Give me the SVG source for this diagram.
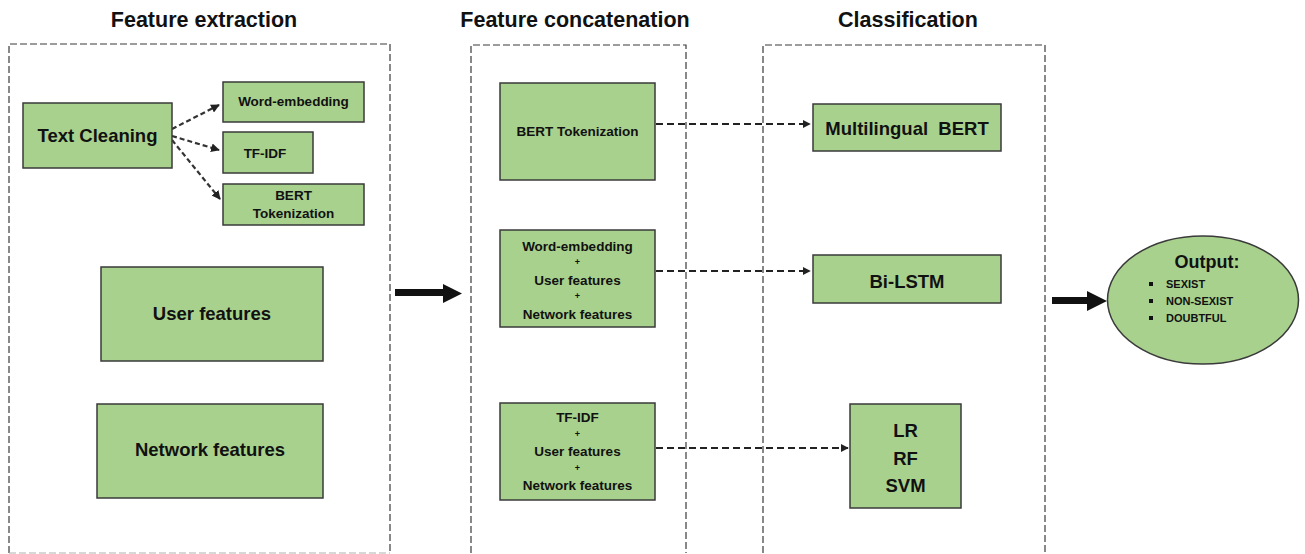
<svg xmlns="http://www.w3.org/2000/svg" width="1305" height="554" viewBox="0 0 1305 554">
<defs>
<style>
text{font-family:"Liberation Sans",Arial,sans-serif;font-weight:bold;fill:#111;text-anchor:middle}
.box{fill:#A9D18E;stroke:#3a3a3a;stroke-width:1.5}
.panel{fill:none;stroke:#3a3a3a;stroke-width:1.2;stroke-dasharray:7 3}
.pbot{fill:none;stroke:#b0b0b0;stroke-width:1.2;stroke-dasharray:7 3}
.dash{fill:none;stroke:#222;stroke-width:2;stroke-dasharray:7 4}
.dash2{fill:none;stroke:#333;stroke-width:2.2;stroke-dasharray:5 3}
.title{font-size:21.5px}
.plus{font-size:9px}
.mid{font-size:13.5px}
.sm{font-size:13.5px}
.lg{font-size:18.5px}
.out{font-size:11px;text-anchor:start}
</style>
<marker id="ah" viewBox="0 0 10 10" refX="9" refY="5" markerWidth="4" markerHeight="4" orient="auto" markerUnits="strokeWidth">
<path d="M0,0 L10,5 L0,10 z" fill="#222"/>
</marker>
</defs>
<rect width="1305" height="554" fill="#fff"/>

<g id="panels">
<path class="panel" d="M9,553 L9,44 L390,44 L390,553"/>
<path class="pbot" d="M9,553 L390,553"/>
<path class="panel" d="M471,553 L471,45 L686,45 L686,553"/>
<path class="panel" d="M763,553 L763,45 L1045,45 L1045,553"/>
</g>

<g id="titles">
<text class="title" x="204" y="27">Feature extraction</text>
<text class="title" x="575" y="27">Feature concatenation</text>
<text class="title" x="908" y="27">Classification</text>
</g>

<g id="connectors">
<path class="dash2" d="M172,129 L219,105" marker-end="url(#ah)"/>
<path class="dash2" d="M172,136 L219,150" marker-end="url(#ah)"/>
<path class="dash2" d="M172,140 L220,199" marker-end="url(#ah)"/>
<path class="dash" d="M656,124 L810,124" marker-end="url(#ah)"/>
<path class="dash" d="M656,271 L810,271" marker-end="url(#ah)"/>
<path class="dash" d="M656,448 L848,448" marker-end="url(#ah)"/>
<polygon points="395,289 443,289 443,284 462,293.5 443,303 443,296 395,296" fill="#111"/>
<polygon points="1052,297 1087,297 1087,291 1107,301 1087,311 1087,304 1052,304" fill="#111"/>
</g>

<g id="text-cleaning">
<rect class="box" x="23" y="103" width="149" height="65"/>
<text class="lg" x="97.5" y="142">Text Cleaning</text>
</g>
<g id="word-embedding">
<rect class="box" x="223" y="82" width="141" height="40"/>
<text class="sm" x="293.5" y="106">Word-embedding</text>
</g>
<g id="tf-idf">
<rect class="box" x="223" y="132" width="90" height="41"/>
<text class="sm" x="265" y="158">TF-IDF</text>
</g>
<g id="bert-tokenization-1">
<rect class="box" x="223" y="184" width="141" height="41"/>
<text class="sm" x="293.5" y="200">BERT</text>
<text class="sm" x="293.5" y="218">Tokenization</text>
</g>
<g id="user-features">
<rect class="box" x="101" y="267" width="222" height="94"/>
<text class="lg" x="212" y="320">User features</text>
</g>
<g id="network-features">
<rect class="box" x="97" y="404" width="226" height="94"/>
<text class="lg" x="210" y="456">Network features</text>
</g>

<g id="bert-tokenization-2">
<rect class="box" x="500" y="83" width="155" height="97"/>
<text class="mid" x="577.5" y="136">BERT Tokenization</text>
</g>
<g id="concat-word">
<rect class="box" x="500" y="230" width="155" height="97"/>
<text class="mid" x="577.5" y="251">Word-embedding</text>
<text class="plus" x="577.5" y="265">+</text>
<text class="mid" x="577.5" y="285">User features</text>
<text class="plus" x="577.5" y="299">+</text>
<text class="mid" x="577.5" y="319">Network features</text>
</g>
<g id="concat-tfidf">
<rect class="box" x="500" y="403" width="155" height="97"/>
<text class="mid" x="577.5" y="422">TF-IDF</text>
<text class="plus" x="577.5" y="437">+</text>
<text class="mid" x="577.5" y="456">User features</text>
<text class="plus" x="577.5" y="471">+</text>
<text class="mid" x="577.5" y="490">Network features</text>
</g>

<g id="multilingual-bert">
<rect class="box" x="813" y="104" width="188" height="47"/>
<text class="lg" x="907" y="135" style="white-space:pre" xml:space="preserve">Multilingual  BERT</text>
</g>
<g id="bi-lstm">
<rect class="box" x="813" y="255" width="188" height="48"/>
<text class="lg" x="907" y="288">Bi-LSTM</text>
</g>
<g id="lr-rf-svm">
<rect class="box" x="850" y="404" width="111" height="104"/>
<text class="lg" x="905.5" y="437">LR</text>
<text class="lg" x="905.5" y="465">RF</text>
<text class="lg" x="905.5" y="492">SVM</text>
</g>

<g id="output">
<ellipse cx="1203" cy="300" rx="95.5" ry="64" fill="#A9D18E" stroke="#3a3a3a" stroke-width="1.5"/>
<text x="1207" y="268" style="font-size:18px">Output:</text>
<rect x="1149" y="282" width="4" height="4" fill="#111"/>
<rect x="1149" y="299" width="4" height="4" fill="#111"/>
<rect x="1149" y="316" width="4" height="4" fill="#111"/>
<text class="out" x="1166" y="288">SEXIST</text>
<text class="out" x="1166" y="305">NON-SEXIST</text>
<text class="out" x="1166" y="322">DOUBTFUL</text>
</g>
</svg>
